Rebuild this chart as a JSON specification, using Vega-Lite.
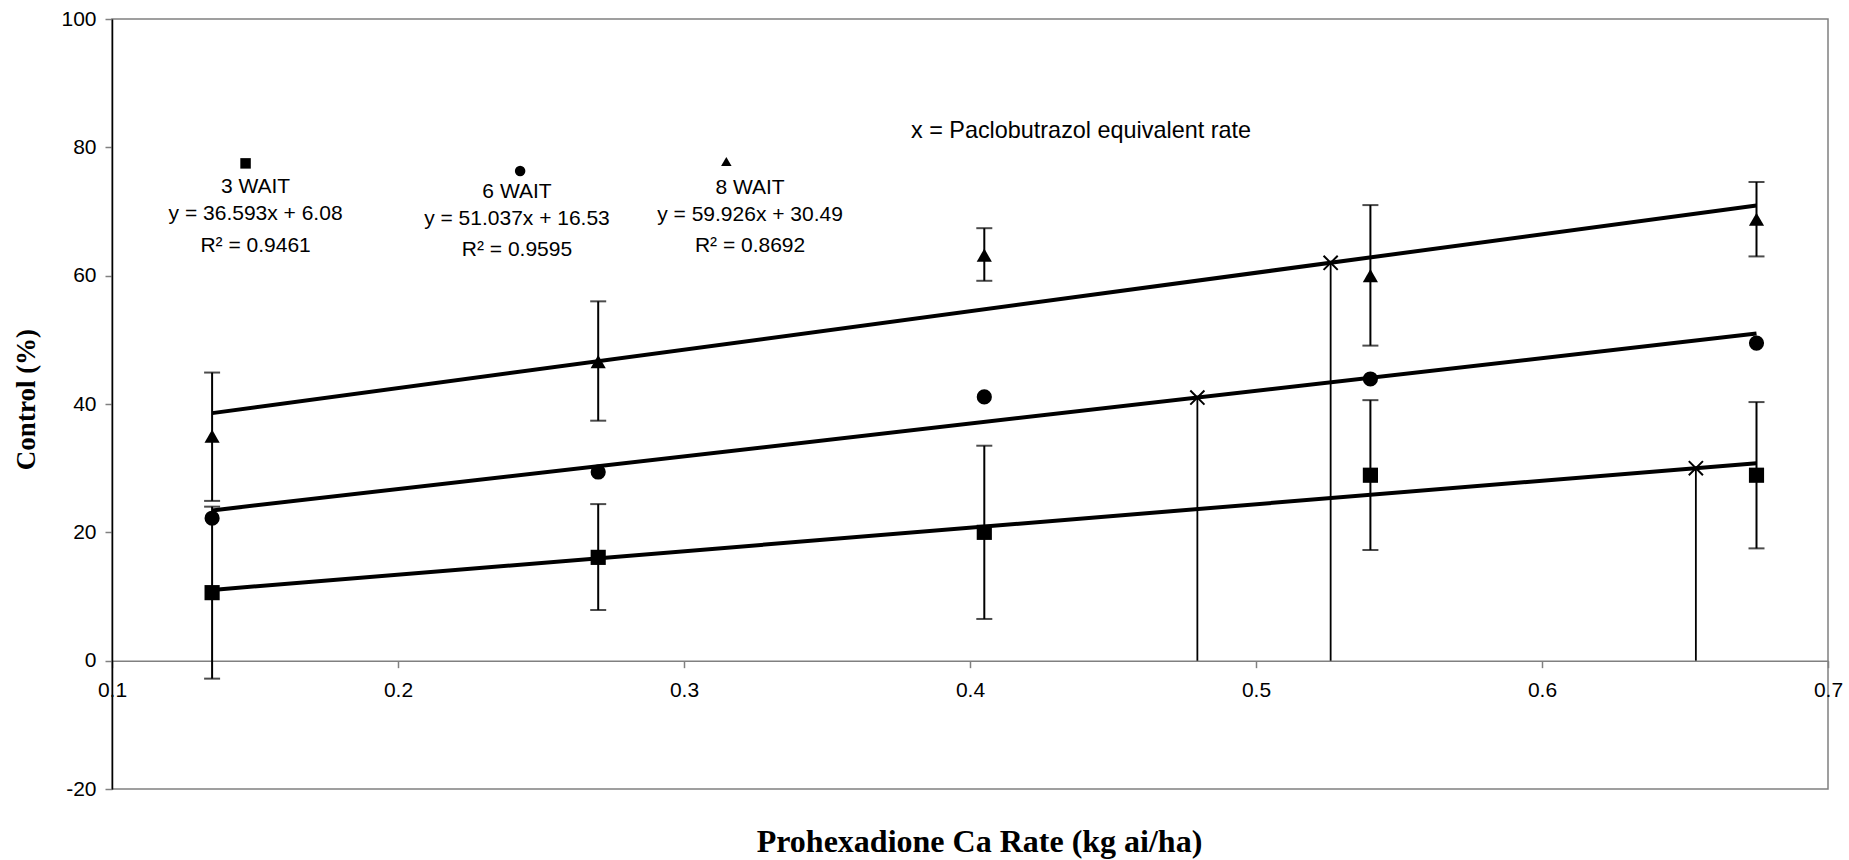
{
  "$schema": "https://vega.github.io/schema/vega-lite/v6.json",
  "width": 1716,
  "height": 770,
  "autosize": {"type": "none"},
  "padding": {"left": 112, "top": 19, "right": 21, "bottom": 71},
  "background": "white",
  "config": {
    "view": {"stroke": "#808080", "strokeWidth": 1.5},
    "font": "Liberation Sans"
  },
  "datasets": {
    "pts": [
      {"series": "3 WAIT", "x": 0.135, "y": 10.6, "lo": -2.8, "hi": 24.0},
      {"series": "3 WAIT", "x": 0.27, "y": 16.1, "lo": 7.9, "hi": 24.4},
      {"series": "3 WAIT", "x": 0.405, "y": 20.0, "lo": 6.5, "hi": 33.5},
      {"series": "3 WAIT", "x": 0.54, "y": 28.9, "lo": 17.25, "hi": 40.6},
      {"series": "3 WAIT", "x": 0.675, "y": 28.9, "lo": 17.5, "hi": 40.3},
      {"series": "6 WAIT", "x": 0.135, "y": 22.2, "lo": null, "hi": null},
      {"series": "6 WAIT", "x": 0.27, "y": 29.4, "lo": null, "hi": null},
      {"series": "6 WAIT", "x": 0.405, "y": 41.1, "lo": null, "hi": null},
      {"series": "6 WAIT", "x": 0.54, "y": 43.9, "lo": null, "hi": null},
      {"series": "6 WAIT", "x": 0.675, "y": 49.5, "lo": null, "hi": null},
      {"series": "8 WAIT", "x": 0.135, "y": 35.0, "lo": 24.9, "hi": 44.9},
      {"series": "8 WAIT", "x": 0.27, "y": 46.6, "lo": 37.4, "hi": 56.0},
      {"series": "8 WAIT", "x": 0.405, "y": 63.2, "lo": 59.2, "hi": 67.4},
      {"series": "8 WAIT", "x": 0.54, "y": 60.0, "lo": 49.1, "hi": 71.0},
      {"series": "8 WAIT", "x": 0.675, "y": 68.8, "lo": 63.0, "hi": 74.6}
    ],
    "pac": [
      {"x": 0.4795, "y": 41.0},
      {"x": 0.5261, "y": 62.0},
      {"x": 0.6538, "y": 30.0}
    ],
    "fits": [
      {"series": "3 WAIT", "x": 0.135, "y": 11.02},
      {"series": "3 WAIT", "x": 0.675, "y": 30.78},
      {"series": "6 WAIT", "x": 0.135, "y": 23.42},
      {"series": "6 WAIT", "x": 0.675, "y": 50.98},
      {"series": "8 WAIT", "x": 0.135, "y": 38.58},
      {"series": "8 WAIT", "x": 0.675, "y": 70.94}
    ],
    "keys": [
      {"series": "3 WAIT", "x": 0.1467, "y": 77.5},
      {"series": "6 WAIT", "x": 0.2427, "y": 76.3},
      {"series": "8 WAIT", "x": 0.3148, "y": 77.8}
    ],
    "labels": [
      {"x": 0.1502, "y": 73.8, "text": "3 WAIT"},
      {"x": 0.1502, "y": 69.6, "text": "y = 36.593x + 6.08"},
      {"x": 0.1502, "y": 64.7, "text": "R² = 0.9461"},
      {"x": 0.2416, "y": 73.1, "text": "6 WAIT"},
      {"x": 0.2416, "y": 68.8, "text": "y = 51.037x + 16.53"},
      {"x": 0.2416, "y": 64.0, "text": "R² = 0.9595"},
      {"x": 0.3231, "y": 73.6, "text": "8 WAIT"},
      {"x": 0.3231, "y": 69.5, "text": "y = 59.926x + 30.49"},
      {"x": 0.3231, "y": 64.55, "text": "R² = 0.8692"}
    ],
    "note": [
      {"x": 0.4388, "y": 82.5, "text": "x = Paclobutrazol equivalent rate"}
    ]
  },
  "encoding": {
    "x": {
      "field": "x", "type": "quantitative",
      "scale": {"domain": [0.1, 0.7], "nice": false, "zero": false},
      "axis": {
        "title": "Prohexadione Ca Rate (kg ai/ha)",
        "values": [0.1, 0.2, 0.3, 0.4, 0.5, 0.6, 0.7],
        "format": ".1f",
        "grid": false,
        "offset": -128.33,
        "labelFlush": false,
        "labelFontSize": 21,
        "labelFont": "Liberation Sans",
        "labelColor": "#000000",
        "labelPadding": 12,
        "tickSize": 7,
        "tickColor": "#808080",
        "tickWidth": 1.5,
        "domainColor": "#808080",
        "domainWidth": 1.5,
        "titleFont": "Liberation Serif",
        "titleFontWeight": "bold",
        "titleFontSize": 32,
        "titleColor": "#000000",
        "titleX": 867,
        "titleY": 181,
        "titleAlign": "center",
        "titleBaseline": "middle"
      }
    },
    "y": {
      "field": "y", "type": "quantitative",
      "scale": {"domain": [-20, 100], "nice": false, "zero": false},
      "axis": {
        "title": "Control (%)",
        "values": [-20, 0, 20, 40, 60, 80, 100],
        "labelExpr": "'' + datum.value",
        "grid": false,
        "labelFlush": false,
        "labelFontSize": 21,
        "labelFont": "Liberation Sans",
        "labelColor": "#000000",
        "labelPadding": 9,
        "tickSize": 7,
        "tickColor": "#808080",
        "tickWidth": 1.5,
        "domainColor": "#000000",
        "domainWidth": 1.5,
        "titleFont": "Liberation Serif",
        "titleFontWeight": "bold",
        "titleFontSize": 27,
        "titleColor": "#000000",
        "titleX": -86,
        "titleY": 380,
        "titleAngle": -90,
        "titleAlign": "center",
        "titleBaseline": "middle"
      }
    }
  },
  "layer": [
    {
      "data": {"name": "fits"},
      "mark": {"type": "line", "color": "black", "strokeWidth": 4},
      "encoding": {"detail": {"field": "series", "type": "nominal"}}
    },
    {
      "data": {"name": "pts"},
      "transform": [{"filter": "datum.lo != null"}],
      "mark": {"type": "rule", "color": "black", "strokeWidth": 2},
      "encoding": {
        "y": {"field": "lo", "type": "quantitative"},
        "y2": {"field": "hi"}
      }
    },
    {
      "data": {"name": "pts"},
      "transform": [{"filter": "datum.lo != null"}],
      "mark": {"type": "tick", "orient": "horizontal", "color": "black", "size": 16, "thickness": 2},
      "encoding": {"y": {"field": "lo", "type": "quantitative"}}
    },
    {
      "data": {"name": "pts"},
      "transform": [{"filter": "datum.hi != null"}],
      "mark": {"type": "tick", "orient": "horizontal", "color": "black", "size": 16, "thickness": 2},
      "encoding": {"y": {"field": "hi", "type": "quantitative"}}
    },
    {
      "data": {"name": "pac"},
      "mark": {"type": "rule", "color": "black", "strokeWidth": 1.8},
      "encoding": {"y2": {"datum": 0}}
    },
    {
      "data": {"name": "pts"},
      "mark": {"type": "point", "filled": true, "color": "black", "opacity": 1, "size": 230},
      "encoding": {
        "shape": {
          "field": "series", "type": "nominal",
          "scale": {"domain": ["3 WAIT", "6 WAIT", "8 WAIT"], "range": ["square", "circle", "triangle-up"]},
          "legend": null
        }
      }
    },
    {
      "data": {"name": "pac"},
      "mark": {"type": "point", "filled": false, "color": "black", "strokeWidth": 2, "opacity": 1, "size": 200, "shape": "M-1,-1L1,1M-1,1L1,-1"}
    },
    {
      "data": {"name": "keys"},
      "mark": {"type": "point", "filled": true, "color": "black", "opacity": 1, "size": 110},
      "encoding": {
        "shape": {
          "field": "series", "type": "nominal",
          "scale": {"domain": ["3 WAIT", "6 WAIT", "8 WAIT"], "range": ["square", "circle", "triangle-up"]},
          "legend": null
        }
      }
    },
    {
      "data": {"name": "labels"},
      "mark": {"type": "text", "font": "Liberation Sans", "fontSize": 21, "color": "black", "align": "center", "baseline": "middle"},
      "encoding": {"text": {"field": "text", "type": "nominal"}}
    },
    {
      "data": {"name": "note"},
      "mark": {"type": "text", "font": "Liberation Sans", "fontSize": 23.4, "color": "black", "align": "center", "baseline": "middle"},
      "encoding": {"text": {"field": "text", "type": "nominal"}}
    }
  ]
}
